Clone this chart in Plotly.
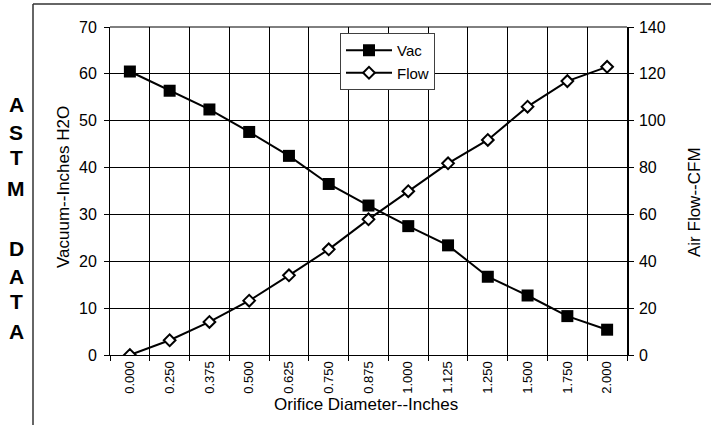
import plotly.graph_objects as go

categories = ["0.000", "0.250", "0.375", "0.500", "0.625", "0.750", "0.875",
              "1.000", "1.125", "1.250", "1.500", "1.750", "2.000"]
vac = [60.5, 56.4, 52.4, 47.6, 42.5, 36.5, 31.9, 27.5, 23.4, 16.7, 12.7, 8.3, 5.4]
flow = [0, 6.3, 14.1, 23.2, 34.0, 45.1, 57.9, 69.9, 81.8, 91.8, 106.0, 116.9, 123.0]

left_ticks = [0, 10, 20, 30, 40, 50, 60, 70]
right_ticks = [0, 20, 40, 60, 80, 100, 120, 140]
side_letters = ["A", "S", "T", "M", "D", "A", "T", "A"]
side_letter_px = [104, 132, 157, 188, 248, 276, 301, 331]

W, H = 711, 425
L, R, T, B = 110, 84, 27, 70
PW, PH = W - L - R, H - T - B

def px_x(x):
    return (x - L) / PW

def px_y(y):
    return (H - B - y) / PH

FONT = "Liberation Sans, Arial, sans-serif"

fig = go.Figure()
fig.add_trace(go.Scatter(
    x=categories, y=vac, name="Vac", mode="lines+markers",
    line=dict(color="black", width=2),
    marker=dict(symbol="square", size=12, color="black", line=dict(color="black", width=0)),
    yaxis="y"))
fig.add_trace(go.Scatter(
    x=categories, y=flow, name="Flow", mode="lines+markers",
    line=dict(color="black", width=2),
    marker=dict(symbol="diamond", size=9, color="white", line=dict(color="black", width=2)),
    yaxis="y2"))

fig.update_layout(
    width=W, height=H,
    margin=dict(l=L, r=R, t=T, b=B),
    paper_bgcolor="white", plot_bgcolor="white",
    font=dict(family=FONT, color="black", size=15),
    showlegend=True,
    legend=dict(x=px_x(340), y=px_y(33), xanchor="left", yanchor="top",
                bgcolor="white", bordercolor="#404040", borderwidth=1,
                itemwidth=46,
                font=dict(size=15, family=FONT), tracegroupgap=0),
    xaxis=dict(type="category", categoryorder="array", categoryarray=categories,
               range=[-0.5, len(categories) - 0.5],
               tickson="boundaries", showgrid=True, gridcolor="black", gridwidth=1,
               ticks="outside", ticklen=5, tickcolor="black",
               tickangle=-90, tickfont=dict(size=13, family=FONT),
               showline=True, linecolor="black", linewidth=1, zeroline=False),
    yaxis=dict(range=[0, 70], tickvals=left_ticks, showgrid=True, gridcolor="black",
               gridwidth=1, ticks="outside", ticklen=5, tickcolor="black",
               tickfont=dict(size=16, family=FONT), ticklabelstandoff=4,
               showline=True, linecolor="black", linewidth=1, zeroline=False),
    yaxis2=dict(range=[0, 140], tickvals=right_ticks, overlaying="y", side="right",
                showgrid=False, ticks="outside", ticklen=5, tickcolor="black",
                tickfont=dict(size=16, family=FONT), ticklabelstandoff=2,
                showline=True, linecolor="black", linewidth=1.5, zeroline=False),
)

# top gridline / plot frame top
fig.add_shape(type="line", xref="paper", yref="paper", x0=0, x1=1, y0=1, y1=1,
              line=dict(color="black", width=1))

# outer border (top and left edges)
fig.add_shape(type="line", xref="paper", yref="paper",
              x0=px_x(33), x1=px_x(720), y0=px_y(4), y1=px_y(4),
              line=dict(color="#333333", width=1.5))
fig.add_shape(type="line", xref="paper", yref="paper",
              x0=px_x(33), x1=px_x(33), y0=px_y(4), y1=px_y(430),
              line=dict(color="#333333", width=1.5))

# axis titles
fig.add_annotation(text="Orifice Diameter--Inches", xref="paper", yref="paper",
                   x=px_x(366), y=px_y(404), xanchor="center", yanchor="middle",
                   showarrow=False, font=dict(size=17, family=FONT))
fig.add_annotation(text="Vacuum--Inches H2O", xref="paper", yref="paper",
                   x=px_x(63), y=px_y(187), xanchor="center", yanchor="middle",
                   textangle=-90, showarrow=False, font=dict(size=17, family=FONT))
fig.add_annotation(text="Air Flow--CFM", xref="paper", yref="paper",
                   x=px_x(695), y=px_y(202), xanchor="center", yanchor="middle",
                   textangle=-90, showarrow=False, font=dict(size=17, family=FONT))

# side letters
for ch, ypx in zip(side_letters, side_letter_px):
    fig.add_annotation(text="<b>%s</b>" % ch, xref="paper", yref="paper",
                       x=px_x(16), y=px_y(ypx), xanchor="center", yanchor="middle",
                       showarrow=False, font=dict(size=21, family=FONT))

fig.write_html("out.html", config={"displayModeBar": False},
               post_script="document.body.style.margin='0';document.body.style.overflow='hidden';")
